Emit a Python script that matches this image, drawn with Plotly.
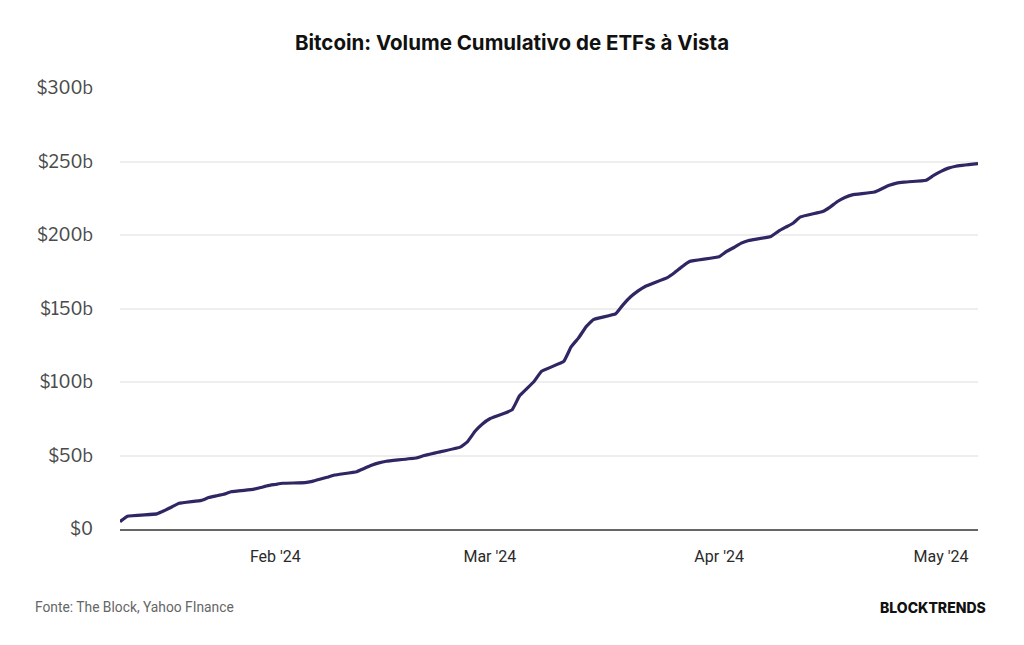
import plotly.graph_objects as go

dates = [
    "2024-01-11", "2024-01-12", "2024-01-16", "2024-01-17", "2024-01-18", "2024-01-19",
    "2024-01-22", "2024-01-23", "2024-01-24", "2024-01-25", "2024-01-26",
    "2024-01-29", "2024-01-30", "2024-01-31", "2024-02-01", "2024-02-02",
    "2024-02-05", "2024-02-06", "2024-02-07", "2024-02-08", "2024-02-09",
    "2024-02-12", "2024-02-13", "2024-02-14", "2024-02-15", "2024-02-16",
    "2024-02-20", "2024-02-21", "2024-02-22", "2024-02-23",
    "2024-02-26", "2024-02-27", "2024-02-28", "2024-02-29", "2024-03-01",
    "2024-03-04", "2024-03-05", "2024-03-06", "2024-03-07", "2024-03-08",
    "2024-03-11", "2024-03-12", "2024-03-13", "2024-03-14", "2024-03-15",
    "2024-03-18", "2024-03-19", "2024-03-20", "2024-03-21", "2024-03-22",
    "2024-03-25", "2024-03-26", "2024-03-27", "2024-03-28",
    "2024-04-01", "2024-04-02", "2024-04-03", "2024-04-04", "2024-04-05",
    "2024-04-08", "2024-04-09", "2024-04-10", "2024-04-11", "2024-04-12",
    "2024-04-15", "2024-04-16", "2024-04-17", "2024-04-18", "2024-04-19",
    "2024-04-22", "2024-04-23", "2024-04-24", "2024-04-25", "2024-04-26",
    "2024-04-29", "2024-04-30", "2024-05-01", "2024-05-02", "2024-05-03",
    "2024-05-06",
]

cumulative_volume_b = [
    5.0, 8.7, 10.3, 12.5, 15.0, 17.5,
    19.5, 21.4, 22.5, 23.6, 25.3,
    27.0, 28.2, 29.5, 30.3, 31.1,
    31.5, 32.4, 33.8, 35.2, 36.7,
    39.0, 41.2, 43.3, 45.0, 46.1,
    48.3, 49.8, 51.0, 52.2,
    55.7, 59.5, 66.5, 71.5, 75.0,
    81.0, 90.5, 95.5, 100.5, 107.3,
    114.0, 124.0, 130.0, 137.5, 142.5,
    146.3, 152.5, 157.8, 161.8, 165.0,
    171.0, 174.5, 178.5, 182.0,
    185.2, 188.8, 191.5, 194.5, 196.3,
    199.0, 202.5, 205.3, 208.0, 212.3,
    216.0, 219.0, 222.8, 225.5, 227.3,
    229.2, 231.5, 233.8, 235.3, 236.0,
    237.3, 240.5, 243.3, 245.5, 246.8,
    248.5,
]

y_tickvals = [0, 50, 100, 150, 200, 250, 300]
y_ticktext = ["$0", "$50b", "$100b", "$150b", "$200b", "$250b", "$300b"]

x_tickvals = ["2024-02-01", "2024-03-01", "2024-04-01", "2024-05-01"]
x_ticktext = ["Feb '24", "Mar '24", "Apr '24", "May '24"]

title_text = "Bitcoin: Volume Cumulativo de ETFs à Vista"
source_text = "Fonte: The Block, Yahoo FInance"
brand_text = "BLOCKTRENDS"

fig = go.Figure()
fig.add_trace(go.Scatter(
    x=dates, y=cumulative_volume_b, mode="lines",
    line=dict(color="#2f2763", width=3.2, shape="spline", smoothing=0.3),
    hoverinfo="x+y",
))

fig.update_layout(
    width=1024, height=645,
    margin=dict(l=120, r=46, t=88, b=116),
    paper_bgcolor="white", plot_bgcolor="white",
    showlegend=False,
    title=dict(text="<b>" + title_text + "</b>", x=0.5, xanchor="center",
               y=1 - 43 / 645, yanchor="middle",
               font=dict(family="Inter", size=20.5, color="#111111")),
    font=dict(family="Inter"),
)

fig.update_xaxes(
    type="date", range=["2024-01-11", "2024-05-06"],
    tickvals=x_tickvals, ticktext=x_ticktext,
    tickfont=dict(family="Roboto", size=16, color="#2a2a2a"),
    showgrid=False, showline=True, linecolor="#666666", linewidth=2,
    ticks="", ticklabelstandoff=12, zeroline=False,
)

fig.update_yaxes(
    range=[0, 300], tickvals=y_tickvals, ticktext=y_ticktext,
    tickfont=dict(family="Libre Franklin, Inter", size=17.5, color="#4a4a4a"),
    showgrid=True, gridcolor="#eeeeee", gridwidth=1.5,
    zeroline=False, showline=False, ticks="", ticklabelstandoff=26,
)

fig.add_annotation(text=source_text, xref="paper", yref="paper",
                   x=(33 - 120) / 858, y=-(607 - 529) / 441,
                   xanchor="left", yanchor="middle", showarrow=False,
                   font=dict(family="Roboto", size=13.8, color="#666666"))
fig.add_annotation(text=brand_text, xref="paper", yref="paper",
                   x=(988 - 120) / 858, y=-(607 - 529) / 441,
                   xanchor="right", yanchor="middle", showarrow=False,
                   font=dict(family="Inter", size=14, color="#111111", weight=800))

fig.write_html("out.html")
